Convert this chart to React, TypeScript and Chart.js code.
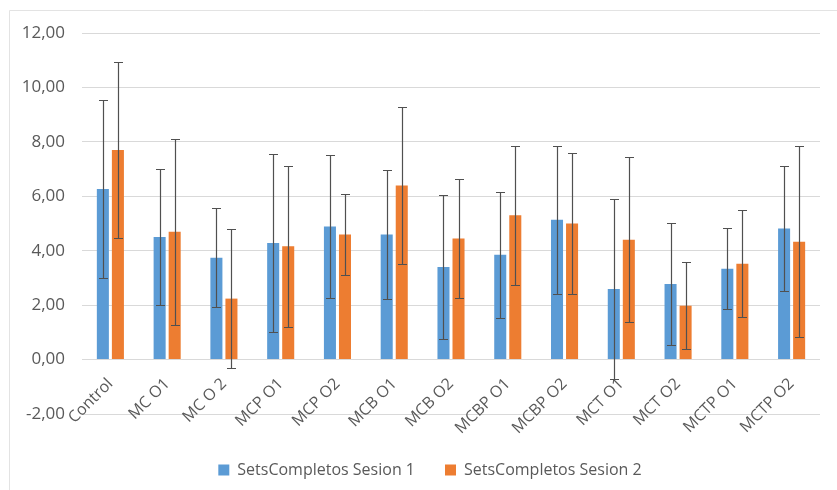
import React, { useEffect, useRef } from "react";
import { Chart, registerables } from "chart.js";

Chart.register(...registerables);

const categories = [
  "Control",
  "MC O1",
  "MC O 2",
  "MCP O1",
  "MCP O2",
  "MCB O1",
  "MCB O2",
  "MCBP O1",
  "MCBP O2",
  "MCT O1",
  "MCT O2",
  "MCTP O1",
  "MCTP O2",
];

const seriesNames = ["SetsCompletos Sesion 1", "SetsCompletos Sesion 2"];

const sesion1 = [6.27, 4.5, 3.74, 4.28, 4.89, 4.6, 3.4, 3.85, 5.14, 2.59, 2.78, 3.34, 4.82];
const sesion2 = [7.7, 4.7, 2.24, 4.16, 4.6, 6.4, 4.45, 5.3, 5.0, 4.4, 1.98, 3.52, 4.33];

const sd1 = [3.27, 2.5, 1.82, 3.27, 2.63, 2.37, 2.65, 2.31, 2.72, 3.3, 2.24, 1.5, 2.31];
const sd2 = [3.25, 3.42, 2.54, 2.96, 1.5, 2.87, 2.2, 2.55, 2.58, 3.03, 1.6, 1.97, 3.5];

const yMin = -2;
const yMax = 12;
const yStep = 2;

const BLUE = "#5B9BD5";
const ORANGE = "#ED7D31";
const TEXT = "#595959";
const GRID = "#D9D9D9";
const FONT = "'Open Sans', sans-serif";

export default function App() {
  const canvasRef = useRef<HTMLCanvasElement | null>(null);

  useEffect(() => {
    const canvas = canvasRef.current;
    if (!canvas) return;

    const sds = [sd1, sd2];

    const frame = {
      id: "frame",
      beforeDraw(chart: any) {
        const ctx = chart.ctx;
        ctx.save();
        ctx.fillStyle = "#ffffff";
        ctx.fillRect(0, 0, chart.width, chart.height);
        ctx.strokeStyle = "#E3E3E3";
        ctx.lineWidth = 1;
        ctx.beginPath();
        ctx.moveTo(9.5, chart.height);
        ctx.lineTo(9.5, 10.5);
        ctx.lineTo(chart.width, 10.5);
        ctx.stroke();
        ctx.restore();
      },
      afterLayout(chart: any) {
        if (chart.legend) {
          chart.legend.left += 20;
          chart.legend.right += 20;
          chart.legend.top += 18;
          chart.legend.bottom += 18;
        }
      },
    };

    const errorBars = {
      id: "errorBars",
      afterDatasetsDraw(chart: any) {
        const ctx = chart.ctx;
        const yScale = chart.scales.y;
        ctx.save();
        ctx.strokeStyle = "#505050";
        ctx.lineWidth = 1.2;
        chart.data.datasets.forEach((ds: any, di: number) => {
          const meta = chart.getDatasetMeta(di);
          meta.data.forEach((bar: any, i: number) => {
            const v = ds.data[i];
            const sd = sds[di][i];
            const x = Math.round(bar.x) + 0.5;
            const yTop = Math.round(yScale.getPixelForValue(v + sd)) + 0.5;
            const yBot = Math.round(yScale.getPixelForValue(v - sd)) + 0.5;
            ctx.beginPath();
            ctx.moveTo(x, yTop);
            ctx.lineTo(x, yBot);
            ctx.moveTo(x - 4.5, yTop);
            ctx.lineTo(x + 4.5, yTop);
            ctx.moveTo(x - 4.5, yBot);
            ctx.lineTo(x + 4.5, yBot);
            ctx.stroke();
          });
        });
        ctx.restore();
      },
    };

    const chart = new Chart(canvas, {
      type: "bar",
      data: {
        labels: categories,
        datasets: [
          {
            label: seriesNames[0],
            data: sesion1,
            backgroundColor: BLUE,
            borderWidth: 0,
            categoryPercentage: 0.53,
            barPercentage: 0.8,
          },
          {
            label: seriesNames[1],
            data: sesion2,
            backgroundColor: ORANGE,
            borderWidth: 0,
            categoryPercentage: 0.53,
            barPercentage: 0.8,
          },
        ],
      },
      options: {
        animation: false,
        responsive: false,
        maintainAspectRatio: false,
        layout: {
          padding: { top: 33, right: 17, bottom: 20, left: 0 },
        },
        plugins: {
          tooltip: { enabled: false },
          legend: {
            position: "bottom",
            labels: {
              boxWidth: 11,
              boxHeight: 11,
              padding: 30,
              color: TEXT,
              font: { family: FONT, size: 16 },
            },
          },
        },
        scales: {
          x: {
            position: { y: 0 } as any,
            grid: { display: false, drawTicks: false },
            border: { display: false },
            ticks: {
              color: TEXT,
              font: { family: FONT, size: 16 },
              minRotation: 45,
              maxRotation: 45,
              autoSkip: false,
              padding: 15,
            },
          },
          y: {
            min: yMin,
            max: yMax,
            grid: { color: GRID, lineWidth: 1, drawTicks: false },
            border: { display: false },
            ticks: {
              stepSize: yStep,
              color: TEXT,
              font: { family: FONT, size: 17 },
              padding: 17,
              callback: (v: any) => Number(v).toFixed(2).replace(".", ","),
            },
            afterFit(scale: any) {
              scale.width = 82;
            },
          },
        },
      },
      plugins: [frame, errorBars],
    });

    return () => {
      chart.destroy();
    };
  }, []);

  return (
    <div style={{ position: "fixed", left: 0, top: 0, width: 837, height: 490, background: "#fff" }}>
      <canvas ref={canvasRef} width={837} height={490} style={{ width: 837, height: 490, display: "block" }} />
    </div>
  );
}
